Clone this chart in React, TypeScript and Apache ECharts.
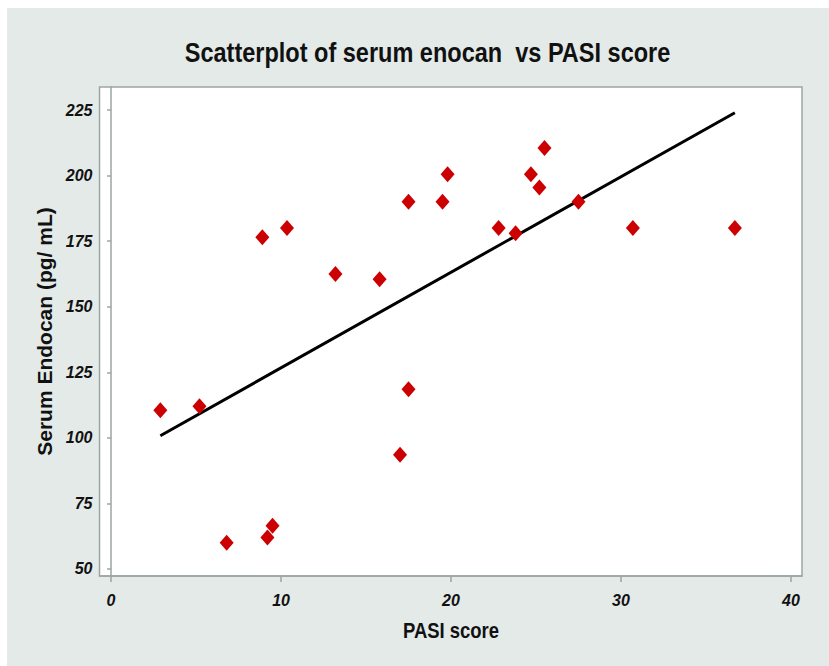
import React, { useEffect, useRef } from "react";
import * as echarts from "echarts";

const pasiScore = [2.9, 5.2, 6.8, 8.9, 9.2, 9.5, 10.35, 13.2, 15.8, 17.0, 17.5, 17.5, 19.5, 19.8, 22.8, 23.8, 24.7, 25.2, 25.5, 27.5, 30.7, 36.7];
const serumEndocan = [110.5, 112, 60, 176.5, 62, 66.5, 180, 162.5, 160.5, 93.5, 118.5, 190, 190, 200.5, 180, 178, 200.5, 195.5, 210.5, 190, 180, 180];
const fitX = [2.9, 36.7];
const fitY = [100.8, 224];
const xTicks = [0, 10, 20, 30, 40];
const yTicks = [50, 75, 100, 125, 150, 175, 200, 225];

const TITLE = "Scatterplot of serum enocan  vs PASI score";
const X_NAME = "PASI score";
const Y_NAME = "Serum Endocan (pg/ mL)";

const SANS = "'Liberation Sans', Arial, sans-serif";

export default function App() {
  const ref = useRef<HTMLDivElement>(null);
  useEffect(() => {
    document.body.style.overflow = "hidden";
    const chart = echarts.init(ref.current!, null, { renderer: "svg" });
    const axisGray = "#9aa6a4";
    chart.setOption({
      animation: false,
      backgroundColor: "#e4eae8",
      graphic: [
        {
          type: "text",
          x: 420.5,
          y: 44,
          scaleX: 0.84,
          style: {
            text: TITLE,
            fontFamily: SANS,
            fontSize: 28,
            fontWeight: "bold",
            fill: "#111",
            textAlign: "center",
            textVerticalAlign: "middle",
          },
        },
        {
          type: "text",
          x: 444,
          y: 622,
          scaleX: 0.84,
          style: {
            text: X_NAME,
            fontFamily: SANS,
            fontSize: 22,
            fontWeight: "bold",
            fill: "#111",
            textAlign: "center",
            textVerticalAlign: "middle",
          },
        },
      ],
      grid: {
        left: 92.5,
        top: 79,
        width: 702.5,
        height: 489,
        show: true,
        backgroundColor: "#ffffff",
        borderColor: axisGray,
        borderWidth: 1.5,
      },
      xAxis: {
        type: "value",
        min: -0.68,
        max: 40.65,
        splitLine: { show: false },
        axisLine: { show: true, lineStyle: { color: axisGray, width: 1.5 } },
        axisTick: { show: true, length: 6, customValues: xTicks, lineStyle: { color: axisGray, width: 1.5 } },
        axisLabel: {
          customValues: xTicks,
          margin: 16,
          fontFamily: SANS,
          fontSize: 16,
          fontWeight: "bold",
          fontStyle: "italic",
          color: "#111",
        },
      },
      yAxis: {
        type: "value",
        min: 47.3,
        max: 233.8,
        name: Y_NAME,
        nameLocation: "middle",
        nameGap: 44,
        nameTextStyle: { fontFamily: SANS, fontSize: 21, fontWeight: "bold", color: "#111" },
        splitLine: { show: false },
        axisLine: { show: true, lineStyle: { color: axisGray, width: 1.5 } },
        axisTick: { show: true, length: 4, customValues: yTicks, lineStyle: { color: axisGray, width: 1.5 } },
        axisLabel: {
          customValues: yTicks,
          margin: 7,
          fontFamily: SANS,
          fontSize: 16,
          fontWeight: "bold",
          fontStyle: "italic",
          color: "#111",
        },
      },
      series: [
        {
          type: "line",
          data: fitX.map((x, i) => [x, fitY[i]]),
          symbol: "none",
          lineStyle: { color: "#000", width: 3 },
          z: 2,
        },
        {
          type: "scatter",
          data: pasiScore.map((x, i) => [x, serumEndocan[i]]),
          symbol: "diamond",
          symbolSize: [14, 16],
          itemStyle: { color: "#cc0000", opacity: 1 },
          z: 3,
        },
      ],
    });
    return () => chart.dispose();
  }, []);
  return (
    <div
      ref={ref}
      style={{ position: "absolute", left: 7, top: 8, width: 822, height: 658 }}
    />
  );
}
